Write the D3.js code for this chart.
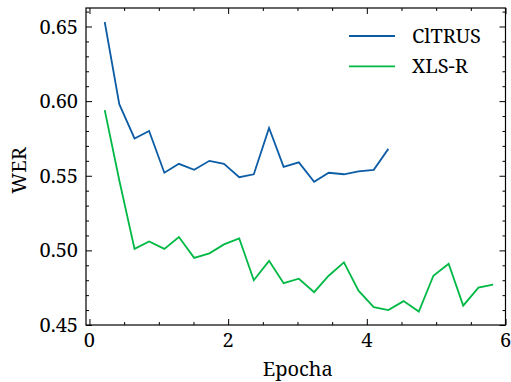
<!DOCTYPE html>
<html>
<head>
<meta charset="utf-8">
<script src="https://cdn.jsdelivr.net/npm/d3@7"></script>
<style>
  html, body { margin: 0; padding: 0; background: #fff; }
  svg { display: block; }
</style>
</head>
<body>
<svg id="chart" width="511" height="382"></svg>
<script>
// Training epochs at which WER was evaluated
const epochs = [0.22, 0.43, 0.65, 0.86, 1.08, 1.29, 1.51, 1.73, 1.94, 2.16,
                2.37, 2.59, 2.80, 3.02, 3.24, 3.45, 3.67, 3.88, 4.10, 4.31,
                4.53, 4.75, 4.96, 5.18, 5.39, 5.61, 5.82];

// WER per evaluation
const citrusWER = [0.653, 0.598, 0.575, 0.580, 0.552, 0.558, 0.554, 0.560, 0.558, 0.549,
                   0.551, 0.582, 0.556, 0.559, 0.546, 0.552, 0.551, 0.553, 0.554, 0.568];
const xlsrWER = [0.594, 0.547, 0.501, 0.506, 0.501, 0.509, 0.495, 0.498, 0.504, 0.508,
                 0.480, 0.493, 0.478, 0.481, 0.472, 0.483, 0.492, 0.473, 0.462, 0.460,
                 0.466, 0.459, 0.483, 0.491, 0.463, 0.475, 0.477];

const seriesNames = ["ClTRUS", "XLS-R"];
const seriesColors = ["#0C5DA5", "#00B945"];

const xTicks = [0, 2, 4, 6];
const yTicks = [0.45, 0.50, 0.55, 0.60, 0.65];
const xLabel = "Epocha";
const yLabel = "WER";

const FONT = "'Noto Serif'";
const fontSize = 20;

const svg = d3.select("#chart");
const box = { left: 86, right: 505.5, top: 8, bottom: 325 };

const x = d3.scaleLinear().domain([-0.05, 6.0]).range([box.left, box.right]);
const y = d3.scaleLinear().domain([0.45, 0.6624]).range([box.bottom, box.top]);

const xMinor = d3.range(0, 6.01, 0.5).filter(v => !xTicks.includes(v));
const yMinor = d3.range(0.45, 0.662, 0.01).map(v => +v.toFixed(2)).filter(v => !yTicks.some(t => Math.abs(t - v) < 1e-9));

const majorLen = 6, minorLen = 3;

function label(parent, str, px, py, anchor, rotate) {
  return parent.append("text")
    .attr("transform", `translate(${px},${py})${rotate ? ` rotate(${rotate})` : ""}`)
    .attr("text-anchor", anchor)
    .style("font-family", FONT)
    .style("font-size", fontSize + "px")
    .attr("fill", "#000")
    .text(str);
}

function styleAxis(g) {
  g.select(".domain").remove();
  g.selectAll(".tick line").attr("stroke", "#000").attr("stroke-width", 1);
}

// Bottom / top axes, ticks pointing inward
svg.append("g").attr("transform", `translate(0,${box.bottom})`)
  .call(d3.axisBottom(x).tickValues(xTicks).tickFormat("").tickSize(-majorLen)).call(styleAxis);
svg.append("g").attr("transform", `translate(0,${box.bottom})`)
  .call(d3.axisBottom(x).tickValues(xMinor).tickFormat("").tickSize(-minorLen)).call(styleAxis);
svg.append("g").attr("transform", `translate(0,${box.top})`)
  .call(d3.axisTop(x).tickValues(xTicks).tickFormat("").tickSize(-majorLen)).call(styleAxis);
svg.append("g").attr("transform", `translate(0,${box.top})`)
  .call(d3.axisTop(x).tickValues(xMinor).tickFormat("").tickSize(-minorLen)).call(styleAxis);

// Left / right axes
svg.append("g").attr("transform", `translate(${box.left},0)`)
  .call(d3.axisLeft(y).tickValues(yTicks).tickFormat("").tickSize(-majorLen)).call(styleAxis);
svg.append("g").attr("transform", `translate(${box.left},0)`)
  .call(d3.axisLeft(y).tickValues(yMinor).tickFormat("").tickSize(-minorLen)).call(styleAxis);
svg.append("g").attr("transform", `translate(${box.right},0)`)
  .call(d3.axisRight(y).tickValues(yTicks).tickFormat("").tickSize(-majorLen)).call(styleAxis);
svg.append("g").attr("transform", `translate(${box.right},0)`)
  .call(d3.axisRight(y).tickValues(yMinor).tickFormat("").tickSize(-minorLen)).call(styleAxis);

// Tick labels
const tickLabels = svg.append("g");
const fmtX = d3.format("d"), fmtY = d3.format(".2f");
xTicks.forEach(v => label(tickLabels, fmtX(v), x(v), 347, "middle"));
yTicks.forEach(v => label(tickLabels, fmtY(v), 78, y(v) + 7, "end"));

// Plot frame
svg.append("rect")
  .attr("x", box.left).attr("y", box.top)
  .attr("width", box.right - box.left).attr("height", box.bottom - box.top)
  .attr("fill", "none").attr("stroke", "#000").attr("stroke-width", 1.2);

// Series lines
const line = d3.line().x(d => x(d[0])).y(d => y(d[1]));
const allSeries = [citrusWER, xlsrWER];
allSeries.forEach((vals, i) => {
  const pts = vals.map((v, k) => [epochs[k], v]);
  svg.append("path")
    .datum(pts)
    .attr("d", line)
    .attr("fill", "none")
    .attr("stroke", seriesColors[i])
    .attr("stroke-width", 1.8)
    .attr("stroke-linejoin", "miter");
});

// Legend
const legend = svg.append("g");
seriesNames.forEach((name, i) => {
  const cy = 36 + i * 30.3;
  legend.append("line")
    .attr("x1", 349).attr("x2", 395)
    .attr("y1", cy).attr("y2", cy)
    .attr("stroke", seriesColors[i]).attr("stroke-width", 1.8);
  label(legend, name, 412, cy + 7, "start");
});

// Axis titles
label(svg, xLabel, (box.left + box.right) / 2 + 2, 376, "middle");
label(svg, yLabel, 26, (box.top + box.bottom) / 2 + 4, "middle", -90);
</script>
</body>
</html>
